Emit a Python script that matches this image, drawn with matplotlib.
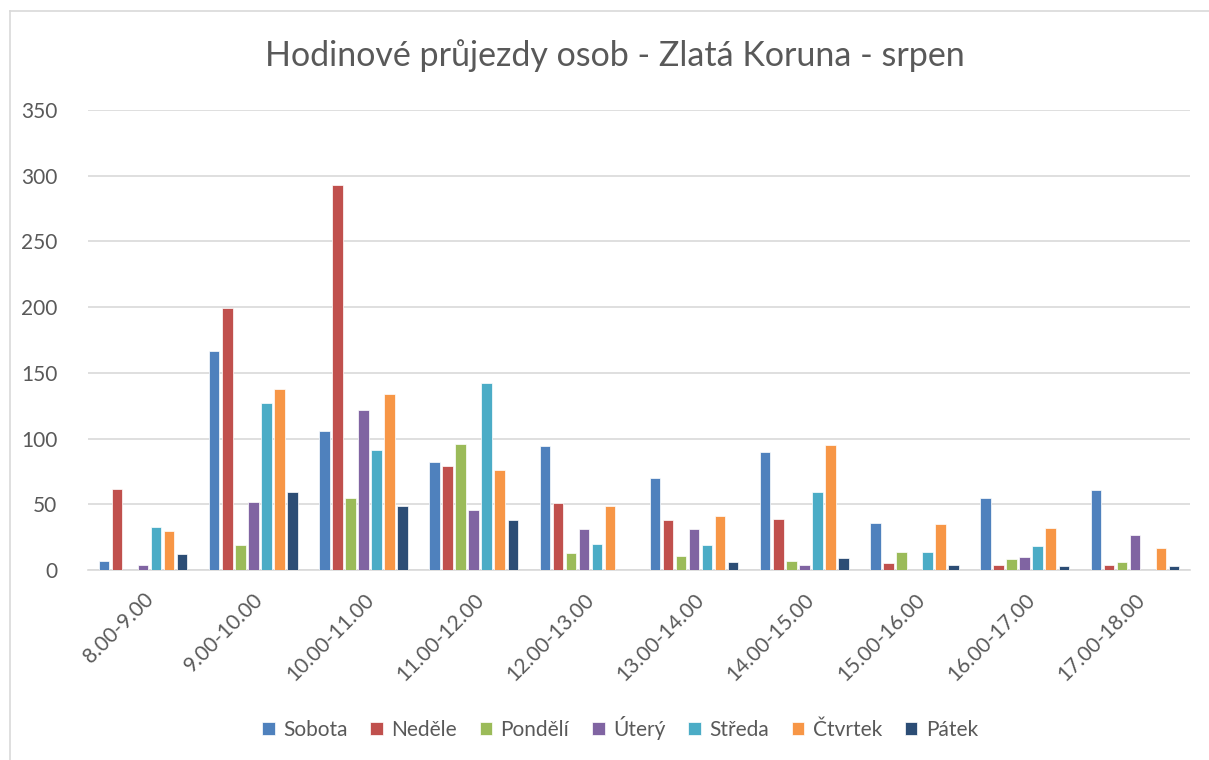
import matplotlib
matplotlib.use("Agg")
import matplotlib.pyplot as plt
from matplotlib.lines import Line2D
import numpy as np

categories = ["8.00-9.00", "9.00-10.00", "10.00-11.00", "11.00-12.00", "12.00-13.00",
              "13.00-14.00", "14.00-15.00", "15.00-16.00", "16.00-17.00", "17.00-18.00"]
series_names = ["Sobota", "Neděle", "Pondělí", "Úterý", "Středa", "Čtvrtek", "Pátek"]
sobota  = [7, 167, 106, 82, 94, 70, 90, 36, 55, 61]
nedele  = [62, 199, 293, 79, 51, 38, 39, 5, 4, 4]
pondeli = [0, 19, 55, 96, 13, 11, 7, 14, 8, 6]
utery   = [4, 52, 122, 46, 31, 31, 4, 0, 10, 27]
streda  = [33, 127, 91, 142, 20, 19, 59, 14, 18, 0]
ctvrtek = [30, 138, 134, 76, 49, 41, 95, 35, 32, 17]
patek   = [12, 59, 49, 38, 0, 6, 9, 4, 3, 3]
series = [sobota, nedele, pondeli, utery, streda, ctvrtek, patek]
colors = ["#4F81BD", "#C0504D", "#9BBB59", "#8064A2", "#4BACC6", "#F79646", "#2C4D75"]

plt.rcParams['font.family'] = ['Lato', 'DejaVu Sans']

W, H = 1209, 760
fig = plt.figure(figsize=(W/100, H/100), dpi=100)
ax = fig.add_axes([88/W, 1-570/H, 1102/W, 460/H])

x = np.arange(len(categories))
pitch = 13/110
width = 10.5/110
for i, (name, vals, c) in enumerate(zip(series_names, series, colors)):
    off = (i - 3) * pitch
    ax.bar(x + off, vals, width=width, color=c, label=name, edgecolor='white', linewidth=0.5, zorder=3)

ax.set_xlim(-0.5, len(categories) - 0.5)
ax.set_ylim(0, 350)
ax.set_yticks(np.arange(0, 351, 50))
ax.yaxis.grid(True, color='#D9D9D9', linewidth=1.2, zorder=0)
for s in ['top', 'right', 'left']:
    ax.spines[s].set_visible(False)
ax.spines['bottom'].set_color('#D9D9D9')
ax.spines['bottom'].set_linewidth(1.2)
ax.tick_params(axis='both', length=0, labelsize=15, colors='#595959')
ax.tick_params(axis='y', pad=22)
ax.set_xticks(x)
ax.set_xticklabels(categories, rotation=45, ha='right', rotation_mode='anchor')
ax.tick_params(axis='x', pad=14)

fig.text(615/W, 1-56/H, "Hodinové průjezdy osob - Zlatá Koruna - srpen",
         ha='center', va='center', fontsize=24.5, color='#595959')

leg = fig.legend(loc='center', bbox_to_anchor=(620/W, 1-728/H), ncol=7, frameon=False,
                 fontsize=15, handlelength=0.6, handleheight=0.6, handletextpad=0.4, columnspacing=1.1)
for t in leg.get_texts():
    t.set_color('#595959')

fig.lines.append(Line2D([9.5/W, 9.5/W], [0, 1-10.5/H], transform=fig.transFigure,
                        color='#D9D9D9', linewidth=1.2))
fig.lines.append(Line2D([9.5/W, 1], [1-10.5/H, 1-10.5/H], transform=fig.transFigure,
                        color='#D9D9D9', linewidth=1.2))

fig.savefig("out.png", dpi=100, facecolor='white')
